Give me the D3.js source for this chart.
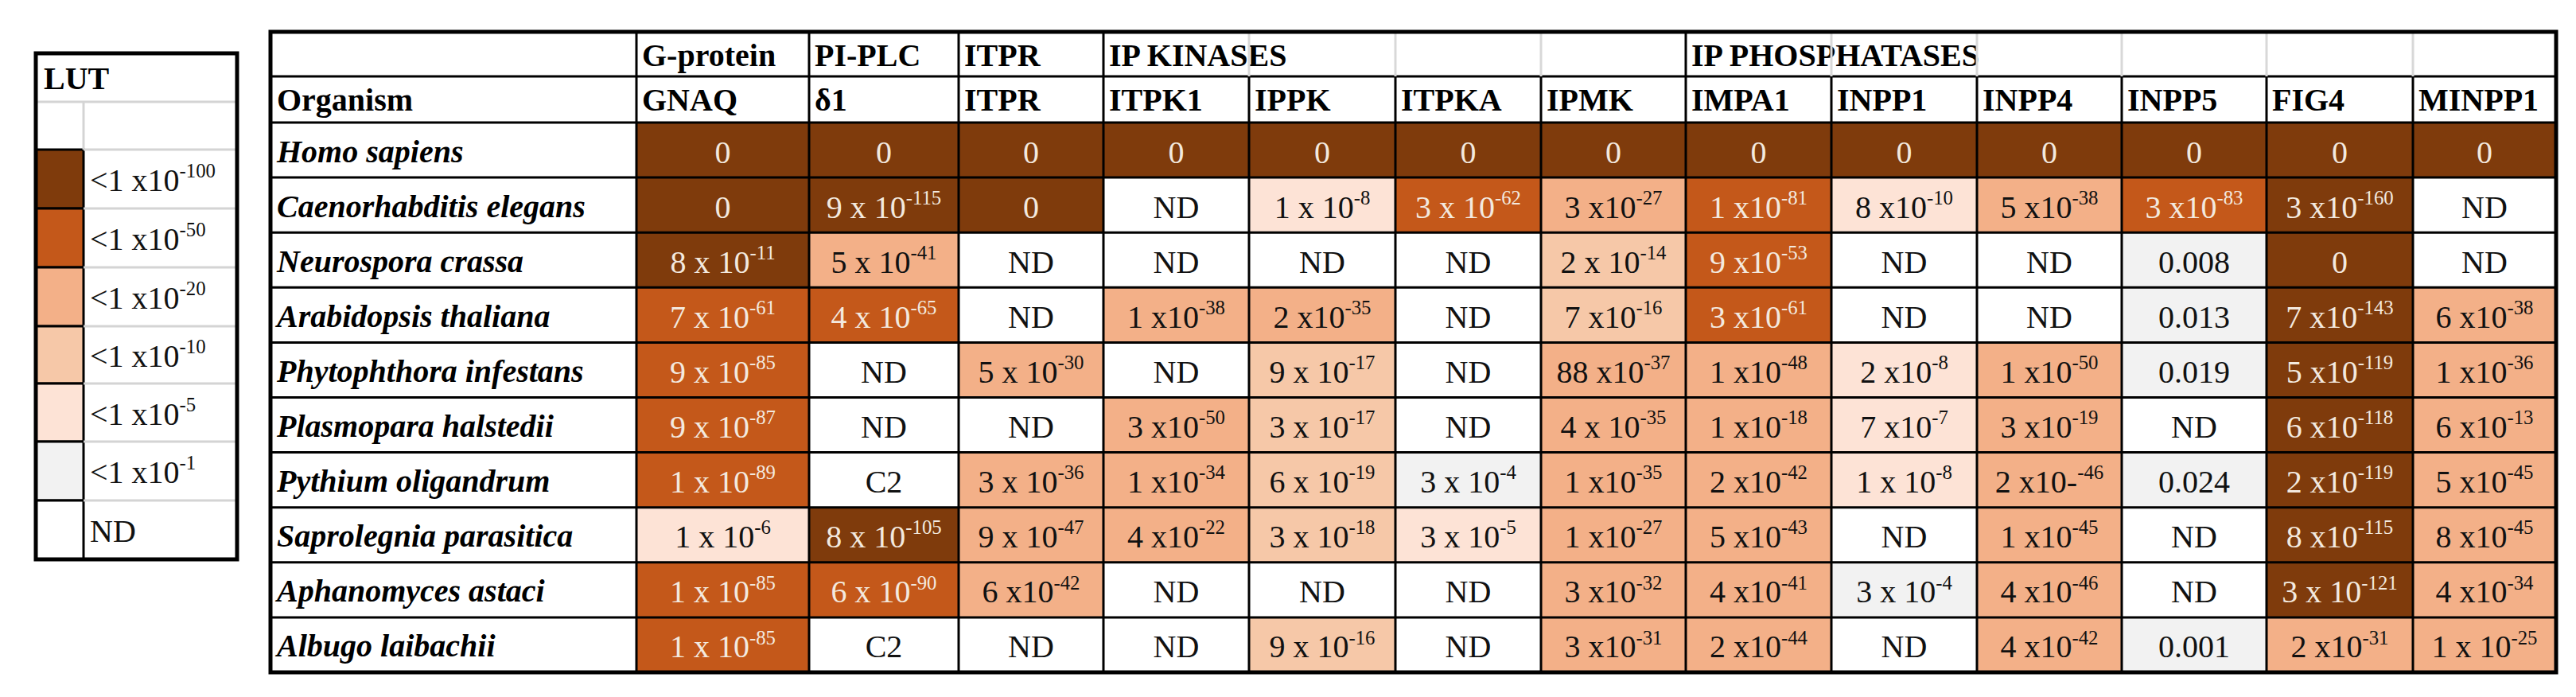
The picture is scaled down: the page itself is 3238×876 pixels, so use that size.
<!DOCTYPE html>
<html>
<head>
<meta charset="utf-8">
<script src="https://cdn.jsdelivr.net/npm/d3@7"></script>
<style>
  html, body { margin: 0; padding: 0; background: #fff; }
</style>
</head>
<body>
<div id="chart"></div>
<script>
// level: 0 <1e-100, 1 <1e-50, 2 <1e-20, 3 <1e-10, 4 <1e-5, 5 <1e-1, 6 ND
const lutColors = ["#7f3b0c", "#c4581a", "#f3b088", "#f6c8a8", "#fde3d6", "#f2f2f2", "#ffffff"];
const lutLabels = ["<1 x10^-100", "<1 x10^-50", "<1 x10^-20", "<1 x10^-10", "<1 x10^-5", "<1 x10^-1", "ND"];

const groups = ["G-protein", "PI-PLC", "ITPR", "IP KINASES", "", "", "", "IP PHOSPHATASES", "", "", "", "", ""];
const genes = ["GNAQ", "δ1", "ITPR", "ITPK1", "IPPK", "ITPKA", "IPMK", "IMPA1", "INPP1", "INPP4", "INPP5", "FIG4", "MINPP1"];
const organisms = ["Homo sapiens", "Caenorhabditis elegans", "Neurospora crassa", "Arabidopsis thaliana",
  "Phytophthora infestans", "Plasmopara halstedii", "Pythium oligandrum", "Saprolegnia parasitica",
  "Aphanomyces astaci", "Albugo laibachii"];

const values = [
  ["0", "0", "0", "0", "0", "0", "0", "0", "0", "0", "0", "0", "0"],
  ["0", "9 x 10^-115", "0", "ND", "1 x 10^-8", "3 x 10^-62", "3 x10^-27", "1 x10^-81", "8 x10^-10", "5 x10^-38", "3 x10^-83", "3 x10^-160", "ND"],
  ["8 x 10^-11", "5 x 10^-41", "ND", "ND", "ND", "ND", "2 x 10^-14", "9 x10^-53", "ND", "ND", "0.008", "0", "ND"],
  ["7 x 10^-61", "4 x 10^-65", "ND", "1 x10^-38", "2 x10^-35", "ND", "7 x10^-16", "3 x10^-61", "ND", "ND", "0.013", "7 x10^-143", "6 x10^-38"],
  ["9 x 10^-85", "ND", "5 x 10^-30", "ND", "9 x 10^-17", "ND", "88 x10^-37", "1 x10^-48", "2 x10^-8", "1 x10^-50", "0.019", "5 x10^-119", "1 x10^-36"],
  ["9 x 10^-87", "ND", "ND", "3 x10^-50", "3 x 10^-17", "ND", "4 x 10^-35", "1 x10^-18", "7 x10^-7", "3 x10^-19", "ND", "6 x10^-118", "6 x10^-13"],
  ["1 x 10^-89", "C2", "3 x 10^-36", "1 x10^-34", "6 x 10^-19", "3 x 10^-4", "1 x10^-35", "2 x10^-42", "1 x 10^-8", "2 x10-^-46", "0.024", "2 x10^-119", "5 x10^-45"],
  ["1 x 10^-6", "8 x 10^-105", "9 x 10^-47", "4 x10^-22", "3 x 10^-18", "3 x 10^-5", "1 x10^-27", "5 x10^-43", "ND", "1 x10^-45", "ND", "8 x10^-115", "8 x10^-45"],
  ["1 x 10^-85", "6 x 10^-90", "6 x10^-42", "ND", "ND", "ND", "3 x10^-32", "4 x10^-41", "3 x 10^-4", "4 x10^-46", "ND", "3 x 10^-121", "4 x10^-34"],
  ["1 x 10^-85", "C2", "ND", "ND", "9 x 10^-16", "ND", "3 x10^-31", "2 x10^-44", "ND", "4 x10^-42", "0.001", "2 x10^-31", "1 x 10^-25"]
];

const levels = [
  [0, 0, 0, 0, 0, 0, 0, 0, 0, 0, 0, 0, 0],
  [0, 0, 0, 6, 4, 1, 2, 1, 4, 2, 1, 0, 6],
  [0, 2, 6, 6, 6, 6, 3, 1, 6, 6, 5, 0, 6],
  [1, 1, 6, 2, 2, 6, 3, 1, 6, 6, 5, 0, 2],
  [1, 6, 2, 6, 3, 6, 2, 2, 4, 2, 5, 0, 2],
  [1, 6, 6, 2, 3, 6, 2, 2, 4, 2, 6, 0, 2],
  [1, 6, 2, 2, 3, 5, 2, 2, 4, 2, 5, 0, 2],
  [4, 0, 2, 2, 3, 4, 2, 2, 6, 2, 6, 0, 2],
  [1, 1, 2, 6, 6, 6, 2, 2, 5, 2, 6, 0, 2],
  [1, 6, 6, 6, 3, 6, 2, 2, 6, 2, 5, 2, 2]
];

const W = 3238, H = 876;
const serif = '"Liberation Serif", "DejaVu Serif", serif';

const svg = d3.select("#chart").append("svg")
  .attr("width", W).attr("height", H)
  .style("display", "block");

// draw "a x 10^-b" as text with superscript
function writeValue(sel, str, size) {
  const parts = str.split("^");
  sel.append("tspan").text(parts[0]);
  if (parts.length > 1) {
    sel.append("tspan")
      .attr("font-size", size * 0.62)
      .attr("dy", -size * 0.42)
      .text(parts[1]);
  }
}

// ---------- legend ----------
const lg = { left: 45, right: 298, top: 67, swatch: 60 };
const legendRows = ["LUT", ""].concat(lutLabels);
const legendY = d3.scaleOrdinal()
  .domain(d3.range(legendRows.length))
  .range([67, 128, 188, 262, 336, 410, 482, 555, 629]);
const legendH = 74;
const legendBottom = 703;

const leg = svg.append("g");
lutLabels.forEach((lab, i) => {
  const y0 = legendY(i + 2);
  const y1 = i + 3 < legendRows.length ? legendY(i + 3) : legendBottom;
  leg.append("rect")
    .attr("x", lg.left).attr("y", y0)
    .attr("width", lg.swatch).attr("height", y1 - y0)
    .attr("fill", lutColors[i]).attr("stroke", "#000").attr("stroke-width", 3);
  if (i > 0) {
    leg.append("line")
      .attr("x1", lg.left + lg.swatch).attr("x2", lg.right)
      .attr("y1", y0).attr("y2", y0)
      .attr("stroke", "#d4d4d4").attr("stroke-width", 3);
  }
  const t = leg.append("text")
    .attr("x", lg.left + lg.swatch + 8)
    .attr("y", y0 + (y1 - y0) / 2 + 15)
    .attr("font-family", serif).attr("font-size", 40).attr("fill", "#111");
  writeValue(t, lab, 40);
});
leg.append("line").attr("x1", lg.left).attr("x2", lg.right)
  .attr("y1", legendY(1)).attr("y2", legendY(1)).attr("stroke", "#d4d4d4").attr("stroke-width", 3);
leg.append("line").attr("x1", lg.left + lg.swatch).attr("x2", lg.right)
  .attr("y1", legendY(2)).attr("y2", legendY(2)).attr("stroke", "#d4d4d4").attr("stroke-width", 3);
leg.append("line").attr("x1", lg.left + lg.swatch).attr("x2", lg.left + lg.swatch)
  .attr("y1", legendY(1)).attr("y2", legendY(2)).attr("stroke", "#d4d4d4").attr("stroke-width", 3);
leg.append("text")
  .attr("x", lg.left + 10).attr("y", legendY(0) + 45)
  .attr("font-family", serif).attr("font-size", 40).attr("font-weight", "bold")
  .text("LUT");
leg.append("rect")
  .attr("x", lg.left).attr("y", lg.top)
  .attr("width", lg.right - lg.left).attr("height", legendBottom - lg.top)
  .attr("fill", "none").attr("stroke", "#000").attr("stroke-width", 5);

// ---------- table ----------
const colEdges = [340, 800, 1017, 1205, 1387, 1570, 1754, 1937, 2119, 2302, 2485, 2667, 2849, 3033, 3213];
const tTop = 40, h1 = 96, h2 = 154, tBottom = 845;

const x = d3.scaleOrdinal().domain(genes).range(colEdges.slice(1, -1));
const colW = g => colEdges[genes.indexOf(g) + 2] - x(g);
const y = d3.scaleBand().domain(organisms).range([h2, tBottom]);

const tg = svg.append("g");

// cells
organisms.forEach((org, r) => {
  genes.forEach((g, c) => {
    const lvl = levels[r][c];
    tg.append("rect")
      .attr("x", x(g)).attr("y", y(org))
      .attr("width", colW(g)).attr("height", y.bandwidth())
      .attr("fill", lutColors[lvl]);
    const t = tg.append("text")
      .attr("x", x(g) + colW(g) / 2)
      .attr("y", y(org) + y.bandwidth() / 2 + 16)
      .attr("text-anchor", "middle")
      .attr("font-family", serif).attr("font-size", 40)
      .attr("fill", lvl <= 1 ? "#f3e9df" : "#111");
    writeValue(t, values[r][c], 40);
  });
  tg.append("text")
    .attr("x", colEdges[0] + 8)
    .attr("y", y(org) + y.bandwidth() / 2 + 15)
    .attr("font-family", serif).attr("font-size", 40)
    .attr("font-weight", "bold").attr("font-style", "italic")
    .attr("fill", "#000")
    .text(org);
});

// header texts
genes.forEach((g, c) => {
  tg.append("text")
    .attr("x", x(g) + 7).attr("y", h1 + 43)
    .attr("font-family", serif).attr("font-size", 40).attr("font-weight", "bold")
    .text(g);
  if (groups[c]) {
    tg.append("text")
      .attr("x", x(g) + 7).attr("y", tTop + 43)
      .attr("font-family", serif).attr("font-size", 40).attr("font-weight", "bold")
      .text(groups[c]);
  }
});
tg.append("text")
  .attr("x", colEdges[0] + 8).attr("y", h1 + 43)
  .attr("font-family", serif).attr("font-size", 40).attr("font-weight", "bold")
  .text("Organism");

// grid lines
const hLines = [h1, h2].concat(organisms.slice(1).map(o => y(o)));
hLines.forEach(yy => {
  tg.append("line").attr("x1", colEdges[0]).attr("x2", colEdges[colEdges.length - 1])
    .attr("y1", yy).attr("y2", yy).attr("stroke", "#000").attr("stroke-width", 3);
});
colEdges.slice(1, -1).forEach((xx, i) => {
  // header row 1 inner lines are light where groups span
  const light = groups[i] === "" || (i > 0 && groups[i - 1] === "IP KINASES") || (i > 0 && groups[i - 1] === "IP PHOSPHATASES");
  tg.append("line").attr("x1", xx).attr("x2", xx)
    .attr("y1", light ? h1 : tTop).attr("y2", tBottom)
    .attr("stroke", "#000").attr("stroke-width", 3);
  if (light) {
    tg.append("line").attr("x1", xx).attr("x2", xx)
      .attr("y1", tTop).attr("y2", h1)
      .attr("stroke", "#d8d8d8").attr("stroke-width", 3);
  }
});
tg.append("rect")
  .attr("x", colEdges[0]).attr("y", tTop)
  .attr("width", colEdges[colEdges.length - 1] - colEdges[0]).attr("height", tBottom - tTop)
  .attr("fill", "none").attr("stroke", "#000").attr("stroke-width", 5);
</script>
</body>
</html>
